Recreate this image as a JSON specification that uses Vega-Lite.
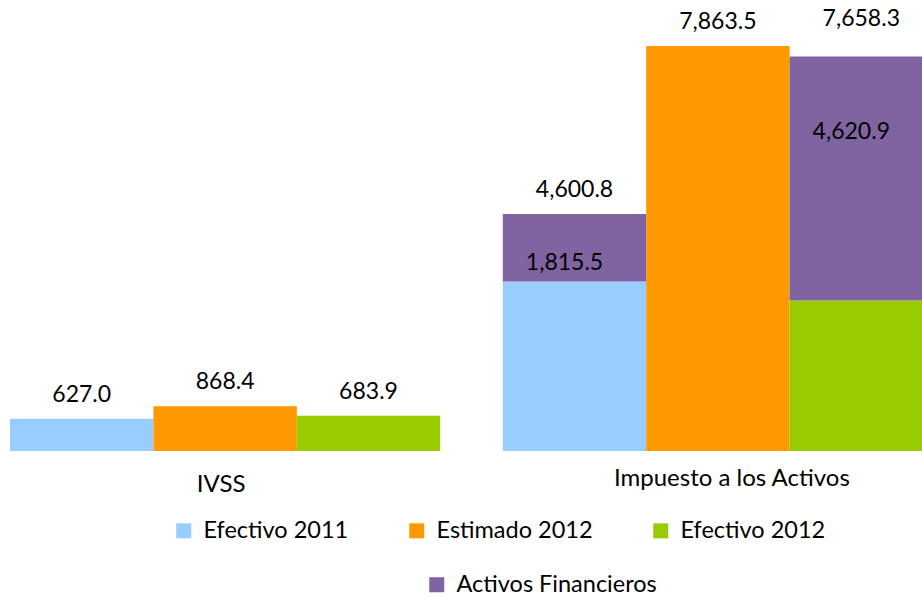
{
  "$schema": "https://vega.github.io/schema/vega-lite/v6.json",
  "autosize": "none",
  "padding": {"left": 0, "top": 0, "right": 0, "bottom": 146},
  "width": 922,
  "height": 451,
  "background": "white",
  "config": {
    "view": {"stroke": null},
    "font": "Lato",
    "legend": {
      "labelFont": "Lato",
      "labelFontSize": 23.5,
      "labelColor": "#000000",
      "labelLimit": 0,
      "symbolType": "square",
      "symbolSize": 225,
      "symbolStrokeWidth": 0,
      "symbolOpacity": 1,
      "labelOffset": 8,
      "columnPadding": 56,
      "gridAlign": "each",
      "padding": 0,
      "orient": "none",
      "direction": "horizontal"
    }
  },
  "data": {
    "values": [
      {"categoria": "IVSS", "serie": "Efectivo 2011", "valor": 627.0, "total": 627.0, "etiqueta": "627.0"},
      {"categoria": "IVSS", "serie": "Estimado 2012", "valor": 868.4, "total": 868.4, "etiqueta": "868.4"},
      {"categoria": "IVSS", "serie": "Efectivo 2012", "valor": 683.9, "total": 683.9, "etiqueta": "683.9"},
      {"categoria": "Impuesto a los Activos", "serie": "Efectivo 2011", "valor": 3290.0, "activos": 1310.8, "total": 4600.8, "etiqueta": "4,600.8", "etiquetaActivos": "1,815.5"},
      {"categoria": "Impuesto a los Activos", "serie": "Estimado 2012", "valor": 7863.5, "total": 7863.5, "etiqueta": "7,863.5"},
      {"categoria": "Impuesto a los Activos", "serie": "Efectivo 2012", "valor": 2920.0, "activos": 4738.3, "total": 7658.3, "etiqueta": "7,658.3", "etiquetaActivos": "4,620.9"}
    ]
  },
  "encoding": {
    "x": {
      "field": "categoria",
      "type": "nominal",
      "sort": ["IVSS", "Impuesto a los Activos"],
      "scale": {"range": [0, 943], "paddingInner": 0.127, "paddingOuter": 0.0203},
      "axis": {
        "title": null,
        "domain": false,
        "ticks": false,
        "tickSize": 0,
        "labelPadding": {"condition": {"test": "datum.value == 'IVSS'", "value": 21}, "value": 15},
        "labelOffset": {"condition": {"test": "datum.value == 'IVSS'", "value": -4}, "value": 14},
        "labelAngle": 0,
        "labelLimit": 0,
        "labelFont": "Lato",
        "labelFontSize": 24,
        "labelColor": "#000000",
        "labelBaseline": "top"
      }
    },
    "xOffset": {
      "field": "serie",
      "type": "nominal",
      "sort": ["Efectivo 2011", "Estimado 2012", "Efectivo 2012"],
      "scale": {"paddingInner": 0, "paddingOuter": 0}
    }
  },
  "layer": [
    {
      "mark": {"type": "bar", "clip": true},
      "encoding": {
        "y": {"field": "valor", "type": "quantitative", "scale": {"domain": [0, 8757], "nice": false, "zero": true}, "axis": null},
        "color": {
          "field": "serie",
          "type": "nominal",
          "sort": ["Efectivo 2011", "Estimado 2012", "Efectivo 2012"],
          "scale": {"domain": ["Efectivo 2011", "Estimado 2012", "Efectivo 2012"], "range": ["#99CCFF", "#FF9900", "#99CC00"]},
          "legend": {"title": null, "legendX": 172, "legendY": 518.7, "columns": 3}
        }
      }
    },
    {
      "transform": [{"filter": "datum.activos > 0"}],
      "mark": {"type": "bar", "clip": true},
      "encoding": {
        "y": {"field": "total", "type": "quantitative"},
        "y2": {"field": "valor"},
        "color": {
          "datum": "Activos Financieros",
          "type": "nominal",
          "scale": {"domain": ["Activos Financieros"], "range": ["#8064A2"]},
          "legend": {"title": null, "legendX": 425, "legendY": 573}
        }
      }
    },
    {
      "transform": [{"filter": "datum.etiqueta != '7,658.3'"}],
      "mark": {"type": "text", "font": "Lato", "fontSize": 23, "color": "#000000", "baseline": "alphabetic", "dy": -17},
      "encoding": {
        "y": {"field": "total", "type": "quantitative"},
        "text": {"field": "etiqueta"}
      }
    },
    {
      "transform": [{"filter": "datum.etiqueta == '7,658.3'"}],
      "mark": {"type": "text", "font": "Lato", "fontSize": 23, "color": "#000000", "baseline": "alphabetic", "dy": -31},
      "encoding": {
        "y": {"field": "total", "type": "quantitative"},
        "text": {"field": "etiqueta"}
      }
    },
    {
      "transform": [{"filter": "datum.serie == 'Efectivo 2011' && datum.activos > 0"}],
      "mark": {"type": "text", "font": "Lato", "fontSize": 23, "color": "#000000", "baseline": "alphabetic", "dy": 56, "dx": -10},
      "encoding": {
        "y": {"field": "total", "type": "quantitative"},
        "text": {"field": "etiquetaActivos"}
      }
    },
    {
      "transform": [{"filter": "datum.serie == 'Efectivo 2012' && datum.activos > 0"}],
      "mark": {"type": "text", "font": "Lato", "fontSize": 23, "color": "#000000", "baseline": "alphabetic", "dy": 82, "dx": -10},
      "encoding": {
        "y": {"field": "total", "type": "quantitative"},
        "text": {"field": "etiquetaActivos"}
      }
    }
  ],
  "resolve": {"scale": {"color": "independent"}, "legend": {"color": "independent"}}
}
